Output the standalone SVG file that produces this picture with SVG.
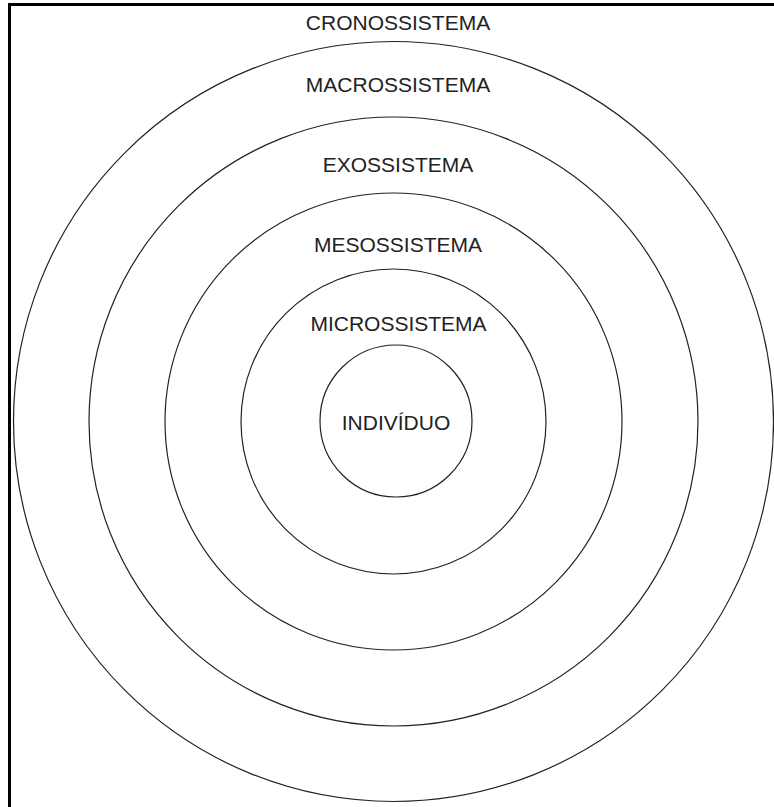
<svg xmlns="http://www.w3.org/2000/svg" width="774" height="807" viewBox="0 0 774 807">
  <style>
    .ring { fill: none; stroke: #222; stroke-width: 1.2; }
    .lbl { font-family: "Liberation Sans", Arial, sans-serif; font-size: 21px; fill: #222; text-anchor: middle; }
    .frame { fill: none; stroke: #000; stroke-width: 3; }
  </style>
  <rect x="0" y="0" width="774" height="807" fill="#fff"/>
  <rect class="frame" x="9.5" y="4.5" width="820" height="850"/>
  <g id="cronossistema">
    <circle class="ring" cx="393.5" cy="421.5" r="380"/>
    <text class="lbl" x="398" y="30">CRONOSSISTEMA</text>
  </g>
  <g id="macrossistema">
    <circle class="ring" cx="393.5" cy="421.5" r="304.5"/>
    <text class="lbl" x="398" y="92">MACROSSISTEMA</text>
  </g>
  <g id="exossistema">
    <circle class="ring" cx="393.5" cy="421.5" r="228.5"/>
    <text class="lbl" x="398" y="172">EXOSSISTEMA</text>
  </g>
  <g id="mesossistema">
    <circle class="ring" cx="393.5" cy="421.5" r="152.5"/>
    <text class="lbl" x="398" y="252">MESOSSISTEMA</text>
  </g>
  <g id="microssistema">
    <text class="lbl" x="398.5" y="331">MICROSSISTEMA</text>
  </g>
  <g id="individuo">
    <circle class="ring" cx="396" cy="421" r="76"/>
    <text class="lbl" x="396" y="430">INDIVÍDUO</text>
  </g>
  <g id="connectors"/>
</svg>
